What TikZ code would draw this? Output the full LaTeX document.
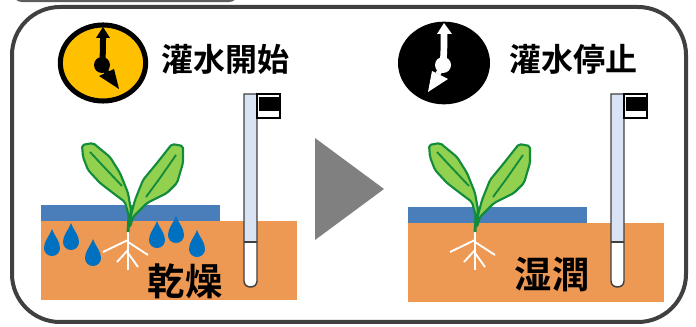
\documentclass[tikz,border=0pt]{standalone}
\usepackage{fontspec}
\newfontfamily\cjk{Noto Sans CJK JP}[BoldFont={Noto Sans CJK JP Bold}]

\definecolor{soil}{RGB}{237,153,84}
\definecolor{mulch}{RGB}{74,126,187}
\definecolor{water}{RGB}{0,112,192}
\definecolor{leaf}{RGB}{146,208,80}
\definecolor{leafline}{RGB}{18,140,60}
\definecolor{probe}{RGB}{218,227,243}
\definecolor{clockbg}{RGB}{255,192,0}
\definecolor{frame}{RGB}{64,64,64}

\tikzset{
  leafshape/.style={fill=leaf, draw=leafline, line width=1.6pt, line join=round, rounded corners=1.5pt},
  rootline/.style={draw=white, line width=1.4pt},
  jptext/.style={font=\cjk\bfseries\fontsize{#1}{#1}\selectfont, inner sep=0pt},
  drop/.pic={
    \fill[water] (0,-19) .. controls (3,-11) and (8,-7) .. (8,0)
      .. controls (8,4.5) and (4.5,8) .. (0,8)
      .. controls (-4.5,8) and (-8,4.5) .. (-8,0)
      .. controls (-8,-7) and (-3,-11) .. (0,-19);
  }
}

% plant with roots, left panel coordinates
\newcommand{\seedling}{%
  \draw[rootline] (128,230) -- (128,270);
  \draw[rootline] (128,240) -- (103,252);
  \draw[rootline] (128,242) -- (148,255);
  \draw[rootline] (128,250) -- (117,262);
  \draw[rootline] (128,253) -- (138,267);
  \draw[leafline, line width=2.2pt] (128,232) -- (129,216);
  \draw[leafshape] (129,227) -- (129,217) -- (125,202) -- (113,193) -- (100,183) -- (88,170)
    -- (83,157) -- (82,145) -- (93,143) -- (110,157) -- (120,173) -- (128,193) -- (131,210) -- cycle;
  \draw[leafline, line width=1.4pt] (90,152) -- (105,168) -- (122,186);
  \draw[leafshape] (130,227) -- (133,217) -- (147,203) -- (167,193) -- (177,183) -- (183,163)
    -- (183,146) -- (172,144) -- (157,163) -- (143,180) -- (135,200) -- (131,215) -- cycle;
  \draw[leafline, line width=1.4pt] (176,155) -- (160,178) -- (146,197);
}

% soil moisture probe
\newcommand{\soilprobe}{%
  \fill[white] (244,94) -- (244,281) .. controls (244,289) and (257,289) .. (257,281) -- (257,94) -- cycle;
  \fill[probe] (244,94) rectangle (257,242);
  \draw[frame, line width=1.1pt] (244,242) -- (257,242);
  \draw[frame, line width=1.1pt] (244,94) -- (244,281) .. controls (244,289) and (257,289) .. (257,281) -- (257,94) -- cycle;
  \draw[black, fill=white, line width=1.1pt] (257,94) rectangle (280,118);
  \fill[black] (259,97) rectangle (280,111);
}

\begin{document}
\begin{tikzpicture}[x=0.75pt, y=-0.75pt]
  \useasboundingbox (0,0) rectangle (696,327);

  % frames
  \draw[frame!85, line width=1.6pt, rounded corners=7pt] (13,-30) rectangle (238,1);
  \draw[frame, line width=3pt, rounded corners=36pt] (12,7) rectangle (686,322);

  % left clock
  \draw[black, fill=clockbg, line width=3.8pt] (103,63) ellipse (32pt and 28.5pt);
  \draw[black, line width=4.5pt] (102,65) .. controls (103,52) .. (103,36);
  \fill[black] (96,38) -- (103,27) -- (110,38) -- cycle;
  \draw[black, line width=4pt] (102,65) .. controls (106,70) .. (107,74);
  \fill[black] (99,76) -- (114,69) -- (119,89) -- cycle;
  \fill[black] (102,65) circle (8);
  \node[jptext=24pt] (title-start) at (225,59) {灌水開始};

  % right clock
  \fill[black] (444,63) ellipse (34.5pt and 31pt);
  \draw[white, line width=5pt] (443,65) .. controls (444,50) .. (444,32);
  \fill[white] (437,34) -- (444,23) -- (452,34) -- cycle;
  \draw[white, line width=4pt] (443,65) .. controls (440,70) .. (438,74);
  \fill[white] (432,71) -- (448,79) -- (428,92) -- cycle;
  \fill[white] (443,65) circle (8);
  \node[jptext=24pt] (title-stop) at (573,59) {灌水停止};

  % arrow between panels
  \fill[black!50] (315,138) -- (384,189) -- (315,240) -- cycle;

  % dry soil
  \fill[soil] (41,221) rectangle (297,300);
  \fill[mulch] (41,205) rectangle (220,221);
  \seedling
  \foreach \x/\y in {52/248, 71/242, 93/258, 157/240, 176/235, 197/249}
    \pic at (\x,\y) {drop};
  \node[jptext=28pt] (dry) at (185,281) {乾燥};
  \soilprobe

  % wet soil
  \begin{scope}[shift={(367,2)}]
    \fill[soil] (41,221) rectangle (297,300);
    \fill[mulch] (41,205) rectangle (220,221);
  \end{scope}
  \begin{scope}[shift={(347,0)}]
    \seedling
  \end{scope}
  \node[jptext=28pt] (wet) at (552,274) {湿潤};
  \begin{scope}[shift={(367,0)}]
    \soilprobe
  \end{scope}
\end{tikzpicture}
\end{document}
